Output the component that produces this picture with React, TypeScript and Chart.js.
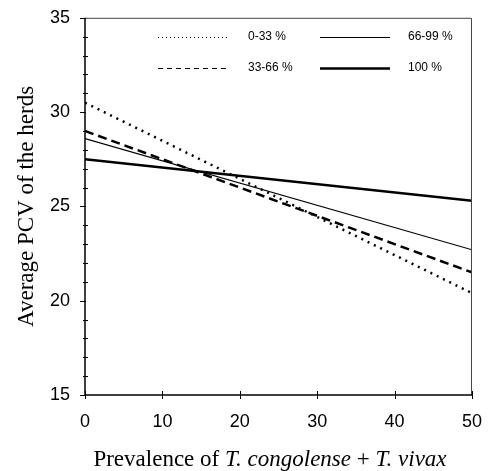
import React, { useEffect, useRef } from "react";
import { Chart, registerables } from "chart.js";

Chart.register(...registerables);

const xValues = [0, 50];
const series0to33 = [30.5, 20.4];
const series33to66 = [29.0, 21.5];
const series66to99 = [28.6, 22.7];
const series100 = [27.5, 25.3];
const seriesLabels = ["0-33 %", "33-66 %", "66-99 %", "100 %"];
const yMajorTicks = [15, 20, 25, 30, 35];
const yMinorTicks = [16, 17, 18, 19, 21, 22, 23, 24, 26, 27, 28, 29, 31, 32, 33, 34];
const xMajorTicks = [0, 10, 20, 30, 40, 50];
const yTitle = "Average PCV of the herds";
const xTitleParts: [string, boolean][] = [
  ["Prevalence of ", false],
  ["T. congolense", true],
  [" + ", false],
  ["T. vivax", true],
];

const toPoints = (ys: number[]) => ys.map((y, i) => ({ x: xValues[i], y }));

const lineStyles = [
  { width: 2.5, dash: [2, 5], legendWidth: 1, legendDash: [1, 3] },
  { width: 2.5, dash: [9, 5], legendWidth: 1, legendDash: [5, 4] },
  { width: 1.2, dash: [], legendWidth: 1, legendDash: [] },
  { width: 2.5, dash: [], legendWidth: 2.5, legendDash: [] },
];

const SERIF = "'Liberation Serif', 'Times New Roman', serif";

const framePlugin = {
  id: "frame",
  afterDraw(chart: any) {
    const { ctx, chartArea: a, scales } = chart;
    const xs = scales.x;
    const ys = scales.y;
    ctx.save();
    // frame
    ctx.strokeStyle = "#444";
    ctx.lineWidth = 1;
    ctx.beginPath();
    ctx.moveTo(a.left, a.top + 0.5);
    ctx.lineTo(a.right - 0.5, a.top + 0.5);
    ctx.lineTo(a.right - 0.5, a.bottom);
    ctx.stroke();
    ctx.strokeStyle = "#000";
    ctx.lineWidth = 1.5;
    ctx.beginPath();
    ctx.moveTo(a.left, a.top);
    ctx.lineTo(a.left, a.bottom);
    ctx.lineTo(a.right, a.bottom);
    ctx.stroke();
    // ticks
    ctx.lineWidth = 1;
    ctx.beginPath();
    yMajorTicks.forEach((v) => {
      const y = Math.round(ys.getPixelForValue(v)) + 0.5;
      ctx.moveTo(a.left - 5, y);
      ctx.lineTo(a.left + 1, y);
    });
    yMinorTicks.forEach((v) => {
      const y = Math.round(ys.getPixelForValue(v)) + 0.5;
      ctx.moveTo(a.left - 2, y);
      ctx.lineTo(a.left + 3, y);
    });
    xMajorTicks.forEach((v) => {
      const x = Math.round(xs.getPixelForValue(v)) + 0.5;
      ctx.moveTo(x, a.bottom - 4);
      ctx.lineTo(x, a.bottom + 4);
    });
    ctx.stroke();

    // legend
    const rows = [37, 68];
    const cols = [
      { s: 158, e: 228, t: 248 },
      { s: 320, e: 390, t: 408 },
    ];
    ctx.font = "12px 'Liberation Sans', Arial, sans-serif";
    ctx.fillStyle = "#000";
    ctx.textBaseline = "middle";
    ctx.textAlign = "left";
    chart.data.datasets.forEach((ds: any, i: number) => {
      const col = cols[Math.floor(i / 2)];
      const y = rows[i % 2] + 0.5;
      const st = lineStyles[i];
      ctx.save();
      ctx.lineWidth = st.legendWidth;
      ctx.setLineDash(st.legendDash);
      ctx.strokeStyle = "#000";
      ctx.beginPath();
      ctx.moveTo(col.s, y);
      ctx.lineTo(col.e, y);
      ctx.stroke();
      ctx.restore();
      ctx.fillText(ds.label, col.t, rows[i % 2]);
    });

    // y title
    ctx.save();
    ctx.font = "23px " + SERIF;
    ctx.translate(27, (a.top + a.bottom) / 2);
    ctx.rotate(-Math.PI / 2);
    ctx.textAlign = "center";
    ctx.textBaseline = "middle";
    ctx.fillText(yTitle, 0, 0);
    ctx.restore();

    // x title
    const fontFor = (it: boolean) => (it ? "italic " : "") + "23px " + SERIF;
    let total = 0;
    xTitleParts.forEach(([t, it]) => {
      ctx.font = fontFor(it);
      total += ctx.measureText(t).width;
    });
    let x = 270 - total / 2;
    ctx.textAlign = "left";
    ctx.textBaseline = "alphabetic";
    xTitleParts.forEach(([t, it]) => {
      ctx.font = fontFor(it);
      ctx.fillText(t, x, 466);
      x += ctx.measureText(t).width;
    });
    ctx.restore();
  },
};

export default function App() {
  const ref = useRef<HTMLCanvasElement | null>(null);
  useEffect(() => {
    if (!ref.current) return;
    const all = [series0to33, series33to66, series66to99, series100];
    const chart = new Chart(ref.current, {
      type: "line",
      data: {
        datasets: all.map((s, i) => ({
          label: seriesLabels[i],
          data: toPoints(s),
          borderColor: "#000",
          borderWidth: lineStyles[i].width,
          borderDash: lineStyles[i].dash,
          pointRadius: 0,
          fill: false,
          tension: 0,
        })),
      },
      options: {
        animation: false,
        responsive: false,
        maintainAspectRatio: false,
        layout: { padding: { top: 17, right: 12, left: 0, bottom: 0 } },
        plugins: { legend: { display: false }, tooltip: { enabled: false } },
        scales: {
          x: {
            type: "linear",
            min: 0,
            max: 50,
            grid: { display: false },
            border: { display: false },
            ticks: {
              stepSize: 10,
              padding: 8,
              color: "#000",
              font: { size: 18, family: "'Liberation Sans', Arial, sans-serif" },
              maxRotation: 0,
            },
            afterFit: (s: any) => {
              s.height = 76;
            },
          },
          y: {
            min: 15,
            max: 35,
            grid: { display: false },
            border: { display: false },
            ticks: {
              stepSize: 5,
              padding: 7,
              color: "#000",
              font: { size: 18, family: "'Liberation Sans', Arial, sans-serif" },
            },
            afterFit: (s: any) => {
              s.width = 85;
            },
          },
        },
      },
      plugins: [framePlugin],
    });
    return () => chart.destroy();
  }, []);
  return (
    <div style={{ position: "absolute", left: 0, top: 0, width: 490, height: 471, background: "#fff" }}>
      <canvas ref={ref} width={490} height={471} style={{ width: 490, height: 471 }} />
    </div>
  );
}
